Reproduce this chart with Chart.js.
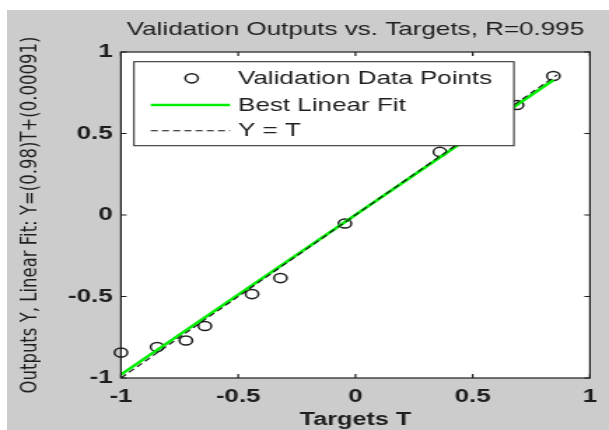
<!DOCTYPE html>
<html><head><meta charset="utf-8">
<script src="https://cdn.jsdelivr.net/npm/chart.js@4/dist/chart.umd.min.js"></script>
<style>
html,body{margin:0;padding:0;background:#fff;width:609px;height:430px;overflow:hidden}
#wrap{position:absolute;left:7px;top:10px;width:602px;height:420px;background:#cccccc;overflow:hidden}
#c{position:absolute;left:0;top:0;transform:scaleX(1.4);transform-origin:0 0}
</style></head><body>
<div id="wrap"><canvas id="c" width="430" height="420"></canvas></div>
<script>
// ---- data ----
const targets = [-1.0, -0.846, -0.723, -0.642, -0.441, -0.320, -0.045, 0.360, 0.689, 0.844];
const outputs = [-0.844, -0.810, -0.770, -0.681, -0.485, -0.387, -0.052, 0.387, 0.675, 0.853];
const fitT = [-1.0, 0.844];
const fitY = [-0.979, 0.828];
const identT = [-1.0, 0.86];
const identY = [-1.0, 0.86];
const xTicks = [-1, -0.5, 0, 0.5, 1];
const yTicks = [-1, -0.5, 0, 0.5, 1];
const titleText = 'Validation Outputs vs. Targets, R=0.995';
const xTitle = 'Targets T';
const yTitle = 'Outputs Y, Linear Fit: Y=(0.98)T+(0.00091)';
const seriesNames = ['Validation Data Points', 'Best Linear Fit', 'Y = T'];

const toXY = (xs, ys) => xs.map((x, i) => ({x: x, y: ys[i]}));
const INK = '#1e1e1e';
const SANS = "'Liberation Sans', Arial, sans-serif";
Chart.defaults.font.family = SANS;

const whiteArea = {
  id: 'whiteArea',
  beforeDraw(chart) {
    const a = chart.chartArea, ctx = chart.ctx;
    ctx.save(); ctx.fillStyle = '#ffffff';
    ctx.fillRect(a.left, a.top, a.right - a.left, a.bottom - a.top);
    ctx.restore();
  }
};

const frame = {
  id: 'frame',
  afterDatasetsDraw(chart) {
    const a = chart.chartArea, ctx = chart.ctx;
    const xs = chart.scales.x, ys = chart.scales.y;
    const tl = 4;
    ctx.save();
    ctx.strokeStyle = INK; ctx.lineWidth = 1.2;
    ctx.strokeRect(a.left, a.top, a.right - a.left, a.bottom - a.top);
    ctx.beginPath();
    xs.ticks.forEach(t => {
      const p = xs.getPixelForValue(t.value);
      ctx.moveTo(p, a.bottom); ctx.lineTo(p, a.bottom - tl);
      ctx.moveTo(p, a.top); ctx.lineTo(p, a.top + tl);
    });
    ys.ticks.forEach(t => {
      const p = ys.getPixelForValue(t.value);
      ctx.moveTo(a.left, p); ctx.lineTo(a.left + tl, p);
      ctx.moveTo(a.right, p); ctx.lineTo(a.right - tl, p);
    });
    ctx.stroke();
    ctx.restore();
  }
};

const boxLegend = {
  id: 'boxLegend',
  afterDraw(chart) {
    const a = chart.chartArea, ctx = chart.ctx;
    const ds = chart.data.datasets;
    const bx = a.left + 9.3, by = a.top + 9.7, bw = 271.4, bh = 84;
    ctx.save();
    ctx.fillStyle = '#ffffff';
    ctx.fillRect(bx, by, bw, bh);
    ctx.strokeStyle = INK; ctx.lineWidth = 1;
    ctx.strokeRect(bx, by, bw, bh);
    const rows = [by + 16.6, by + 43.3, by + 69];
    const symL = bx + 12, symR = bx + 68.6, symC = bx + 41.2, textX = bx + 74.3;
    ctx.beginPath();
    ctx.arc(symC, rows[0], ds[0].pointRadius, 0, Math.PI * 2);
    ctx.strokeStyle = ds[0].pointBorderColor; ctx.lineWidth = ds[0].pointBorderWidth;
    ctx.stroke();
    ctx.beginPath(); ctx.moveTo(symL, rows[1]); ctx.lineTo(symR, rows[1]);
    ctx.strokeStyle = ds[1].borderColor; ctx.lineWidth = ds[1].borderWidth; ctx.stroke();
    ctx.beginPath(); ctx.setLineDash(ds[2].borderDash);
    ctx.moveTo(symL, rows[2]); ctx.lineTo(symR, rows[2]);
    ctx.strokeStyle = ds[2].borderColor; ctx.lineWidth = ds[2].borderWidth; ctx.stroke();
    ctx.setLineDash([]);
    ctx.fillStyle = INK; ctx.font = '18.6px ' + SANS;
    ctx.textBaseline = 'middle'; ctx.textAlign = 'left';
    ds.forEach((d, i) => ctx.fillText(d.label, textX, rows[i] + 0.5));
    ctx.restore();
  }
};

new Chart(document.getElementById('c'), {
  type: 'scatter',
  data: {
    datasets: [
      {
        label: seriesNames[0], data: toXY(targets, outputs), order: 3, clip: false,
        showLine: false, pointStyle: 'circle', pointRadius: 4.6, pointHoverRadius: 4.6,
        pointBackgroundColor: 'rgba(0,0,0,0)', pointBorderColor: INK, pointBorderWidth: 1.5
      },
      {
        label: seriesNames[1], data: toXY(fitT, fitY), order: 2, type: 'line',
        showLine: true, borderColor: '#00ee00', borderWidth: 2.6, pointRadius: 0, fill: false
      },
      {
        label: seriesNames[2], data: toXY(identT, identY), order: 1, type: 'line',
        showLine: true, borderColor: '#111111', borderWidth: 1.1, borderDash: [5, 3], pointRadius: 0, fill: false
      }
    ]
  },
  options: {
    responsive: false, animation: false, devicePixelRatio: 1,
    layout: {padding: {left: 0, right: 13.6, top: 0, bottom: 0}},
    plugins: {
      legend: {display: false},
      tooltip: {enabled: false},
      title: {
        display: true, text: titleText, fullSize: false, color: INK,
        font: {family: SANS, size: 18.6, weight: 'normal', lineHeight: 1.2},
        padding: {top: 9.1, bottom: 10.6}
      }
    },
    scales: {
      x: {
        type: 'linear', min: -1, max: 1,
        afterBuildTicks: s => { s.ticks = xTicks.map(v => ({value: v})); },
        afterFit: s => { s.height = 52; },
        ticks: {callback: v => String(v), color: INK, padding: 7.7, maxRotation: 0, autoSkip: false,
                font: {family: SANS, size: 18.5, weight: 'bold', lineHeight: 1.2}},
        grid: {display: false, drawTicks: false},
        border: {display: false},
        title: {display: true, text: xTitle, color: INK,
                font: {family: SANS, size: 18, weight: 'bold', lineHeight: 1},
                padding: {top: 0, bottom: 0.5}}
      },
      y: {
        type: 'linear', min: -1, max: 1,
        afterBuildTicks: s => { s.ticks = yTicks.map(v => ({value: v})); },
        afterFit: s => { s.width = 81.4; },
        ticks: {callback: v => String(v), color: INK, padding: 5.9, autoSkip: false,
                font: {family: SANS, size: 18.5, weight: 'bold', lineHeight: 1.2}},
        grid: {display: false, drawTicks: false},
        border: {display: false},
        title: {display: true, text: yTitle, color: INK,
                font: {family: "'DejaVu Sans', sans-serif", size: 16.5, weight: 'normal', lineHeight: 1.2},
                padding: {top: 7.2, bottom: 0}}
      }
    }
  },
  plugins: [whiteArea, frame, boxLegend]
});
</script>
</body></html>
